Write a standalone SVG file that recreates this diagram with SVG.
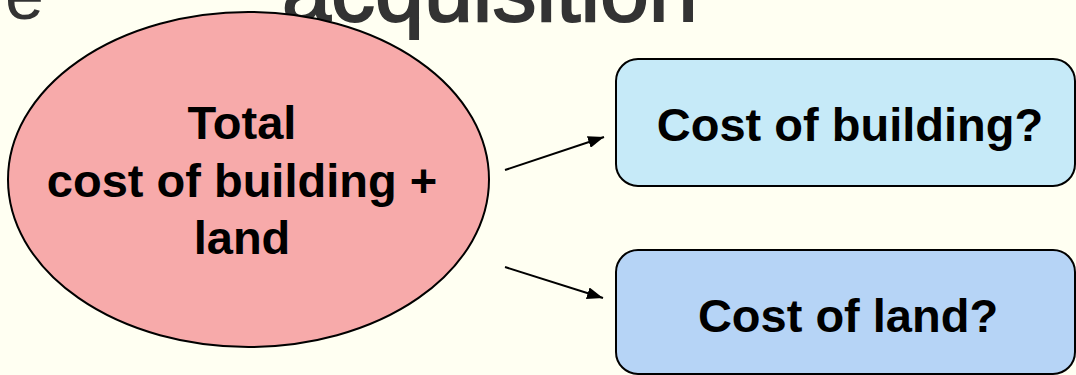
<svg xmlns="http://www.w3.org/2000/svg" width="1076" height="375" viewBox="0 0 1076 375">
  <defs>
    <style>
      .title { font-family: "Liberation Sans", Arial, sans-serif; fill: #333333; }
      .lbl { font-family: "Liberation Sans", Arial, sans-serif; font-weight: bold; fill: #000000; text-anchor: middle; }
      .conn { stroke: #000000; stroke-width: 2; fill: none; marker-end: url(#arrow); }
      .shape { stroke: #000000; stroke-width: 2; }
    </style>
    <marker id="arrow" viewBox="0 0 16 12" refX="16" refY="6" markerWidth="16" markerHeight="12" markerUnits="userSpaceOnUse" orient="auto">
      <path d="M0,0 L16,6 L0,12 z" fill="#000000"/>
    </marker>
  </defs>
  <rect x="0" y="0" width="1076" height="375" fill="#FFFFF2"/>
  <g id="title">
    <text class="title" x="5" y="19" font-size="70">e</text>
    <text class="title" x="282" y="21" font-size="88" stroke="#333333" stroke-width="2">acquisition</text>
  </g>
  <g id="total">
    <ellipse class="shape" cx="248.5" cy="179.5" rx="240.5" ry="167.5" fill="#F7AAAA"/>
    <text class="lbl" x="242" y="139" font-size="47">Total</text>
    <text class="lbl" x="242" y="197" font-size="47">cost of building +</text>
    <text class="lbl" x="242" y="254" font-size="47">land</text>
  </g>
  <g id="building">
    <rect class="shape" x="616" y="59" width="459" height="127" rx="22" fill="#C6EAF8"/>
    <text class="lbl" x="850" y="141" font-size="47">Cost of building?</text>
  </g>
  <g id="land">
    <rect class="shape" x="616" y="250" width="459" height="124" rx="22" fill="#B6D4F6"/>
    <text class="lbl" x="848" y="332" font-size="47">Cost of land?</text>
  </g>
  <g id="connectors">
    <line class="conn" x1="505" y1="170" x2="604" y2="137"/>
    <line class="conn" x1="505" y1="267" x2="603" y2="298"/>
  </g>
</svg>
